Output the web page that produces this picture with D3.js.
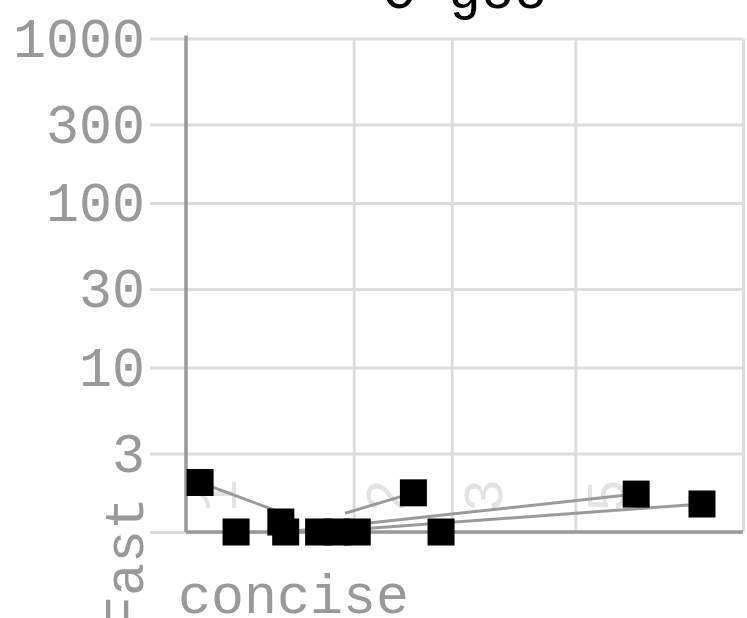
<!DOCTYPE html>
<html>
<head>
<meta charset="utf-8">
<script src="https://cdn.jsdelivr.net/npm/d3@7"></script>
<style>
  html, body { margin: 0; padding: 0; background: #fff; overflow: hidden; }
  text { font-family: "Liberation Mono", "DejaVu Sans Mono", monospace; }
</style>
</head>
<body>
<svg id="chart" width="747" height="618"></svg>
<script>
// Language panel: time ratio (Fast) against code-size ratio (concise), both log scaled
const title = "C gcc";
const yTickValues = [1, 3, 10, 30, 100, 300, 1000];
const yTickLabels = ["", "3", "10", "30", "100", "300", "1000"];
const xGridValues = [2, 3, 5, 10];
const xLabelValues = [1, 2, 3, 5];
const xLabelTexts = ["1", "2", "3", "5"];

// one point per program: code-size ratio and time ratio
const codeRatio = [1.06, 1.23, 1.48, 1.51, 1.73, 1.87, 2.03, 2.56, 2.87, 6.43, 8.44];
const timeRatio = [2.0, 1.0, 1.15, 1.0, 1.0, 1.0, 1.0, 1.73, 1.0, 1.70, 1.48];

// grey connecting lines (from -> to)
const linkFromCode = [1.06, 1.93, 1.51, 1.73];
const linkFromTime = [2.0, 1.30, 1.0, 1.0];
const linkToCode = [1.54, 2.56, 6.43, 8.44];
const linkToTime = [1.25, 1.73, 1.70, 1.48];

const svg = d3.select("#chart");
const W = 747, H = 618;
const plot = { left: 186, right: 743, top: 38.5, bottom: 532 };
const tickStart = 150;
const fontSize = 55;

svg.append("rect").attr("width", W).attr("height", H).attr("fill", "#fff");

const x = d3.scaleLog().domain([1, 10]).range([plot.left, plot.right]);
const y = d3.scaleLog().domain([1, 1000]).range([plot.bottom, plot.top]);

// horizontal grid + y tick labels
const yAxis = d3.axisLeft(y)
  .tickValues(yTickValues)
  .tickSize(-(plot.right - tickStart))
  .tickPadding(5)
  .tickFormat((d, i) => yTickLabels[i]);
const gy = svg.append("g").attr("transform", `translate(${tickStart},0)`).call(yAxis);
gy.select(".domain").remove();
gy.selectAll(".tick line").attr("stroke", "#dcdcdc").attr("stroke-width", 3);
gy.selectAll(".tick text")
  .attr("fill", "#999")
  .attr("font-size", fontSize)
  .attr("font-family", "Liberation Mono, DejaVu Sans Mono, monospace");

// vertical grid
const xAxis = d3.axisBottom(x).tickValues(xGridValues).tickSize(-(plot.bottom - plot.top)).tickFormat("");
const gx = svg.append("g").attr("transform", `translate(0,${plot.bottom})`).call(xAxis);
gx.select(".domain").remove();
gx.selectAll(".tick line").attr("stroke", "#dcdcdc").attr("stroke-width", 3);

// faint rotated x labels inside the plot
svg.append("g").selectAll("text")
  .data(xLabelValues)
  .join("text")
  .attr("transform", d => `translate(${x(d) + 50},${plot.bottom - 20}) rotate(-90)`)
  .attr("text-anchor", "start")
  .attr("fill", "#e2e2e2")
  .attr("font-size", fontSize)
  .text((d, i) => xLabelTexts[i]);

// axis lines
svg.append("line")
  .attr("x1", x(1)).attr("x2", x(1))
  .attr("y1", y(1000) - 3).attr("y2", y(1))
  .attr("stroke", "#999").attr("stroke-width", 3.5);
svg.append("line")
  .attr("x1", x(1)).attr("x2", x(10))
  .attr("y1", y(1)).attr("y2", y(1))
  .attr("stroke", "#999").attr("stroke-width", 3.5);

// grey links
svg.append("g").selectAll("line")
  .data(linkFromCode)
  .join("line")
  .attr("x1", (d, i) => x(linkFromCode[i]))
  .attr("y1", (d, i) => y(linkFromTime[i]))
  .attr("x2", (d, i) => x(linkToCode[i]))
  .attr("y2", (d, i) => y(linkToTime[i]))
  .attr("stroke", "#9a9a9a")
  .attr("stroke-width", 3);

// program points
const S = 27;
svg.append("g").selectAll("rect")
  .data(codeRatio)
  .join("rect")
  .attr("x", (d) => x(d) - S / 2)
  .attr("y", (d, i) => y(timeRatio[i]) - S / 2)
  .attr("width", S)
  .attr("height", S)
  .attr("fill", "#000");

// title (top of the panel)
svg.append("text")
  .attr("x", (plot.left + plot.right) / 2)
  .attr("y", 8)
  .attr("text-anchor", "middle")
  .attr("fill", "#000")
  .attr("font-size", fontSize)
  .text(title);

// axis captions
svg.append("text")
  .attr("x", 178)
  .attr("y", 613)
  .attr("fill", "#999")
  .attr("font-size", fontSize)
  .text("concise");

svg.append("text")
  .attr("transform", `translate(143,497) rotate(-90)`)
  .attr("text-anchor", "end")
  .attr("fill", "#999")
  .attr("font-size", fontSize)
  .text("Fast");
</script>
</body>
</html>
